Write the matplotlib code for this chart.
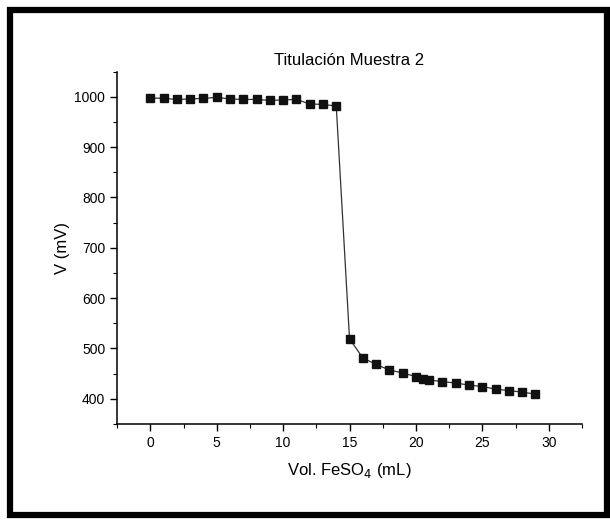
import matplotlib.pyplot as plt
from matplotlib.patches import Rectangle
from matplotlib.ticker import MultipleLocator

plt.rcParams["font.family"] = ["Liberation Sans", "DejaVu Sans"]

# volume of FeSO4 added (mL) and measured potential (mV)
vol_ml = [0, 1, 2, 3, 4, 5, 6, 7, 8, 9, 10, 11, 12, 13, 14,
          15, 16, 17, 18, 19, 20, 20.5, 21, 22, 23, 24, 25, 26, 27, 28, 29]
pot_mv = [998, 997, 995, 996, 997, 999, 996, 995, 995, 993, 994, 995, 986, 985, 982,
          519, 481, 468, 457, 451, 444, 440, 437, 434, 431, 427, 424, 419, 416, 413, 409]

title = "Titulación Muestra 2"
x_label = "Vol. FeSO$_4$ (mL)"
y_label = "V (mV)"

fig = plt.figure(figsize=(6.1, 5.2), dpi=100)
ax = fig.add_axes([0.192, 0.185, 0.762, 0.677])

ax.plot(vol_ml, pot_mv, color="#333333", lw=0.9, marker="s", markersize=5.4,
        markerfacecolor="#111111", markeredgecolor="#111111")

ax.set_xlim(-2.5, 32.5)
ax.set_ylim(350, 1050)
ax.xaxis.set_major_locator(MultipleLocator(5))
ax.xaxis.set_minor_locator(MultipleLocator(2.5))
ax.yaxis.set_major_locator(MultipleLocator(100))
ax.yaxis.set_minor_locator(MultipleLocator(50))
ax.set_yticks(range(400, 1001, 100))

for side in ("top", "right"):
    ax.spines[side].set_visible(False)
for side in ("left", "bottom"):
    ax.spines[side].set_linewidth(1.1)

ax.tick_params(which="major", direction="out", length=5, width=1, labelsize=10)
ax.tick_params(which="minor", direction="out", length=3, width=0.8)

ax.set_title(title, fontsize=12, pad=5)
ax.set_xlabel(x_label, fontsize=12, labelpad=8)
ax.set_ylabel(y_label, fontsize=12, labelpad=3)

# scanned page frame
frame = Rectangle((10 / 610, 5 / 520), 597 / 610, 505 / 520, transform=fig.transFigure,
                  fill=False, edgecolor="black", lw=4.5)
fig.patches.append(frame)

fig.savefig("out.png", dpi=100)
